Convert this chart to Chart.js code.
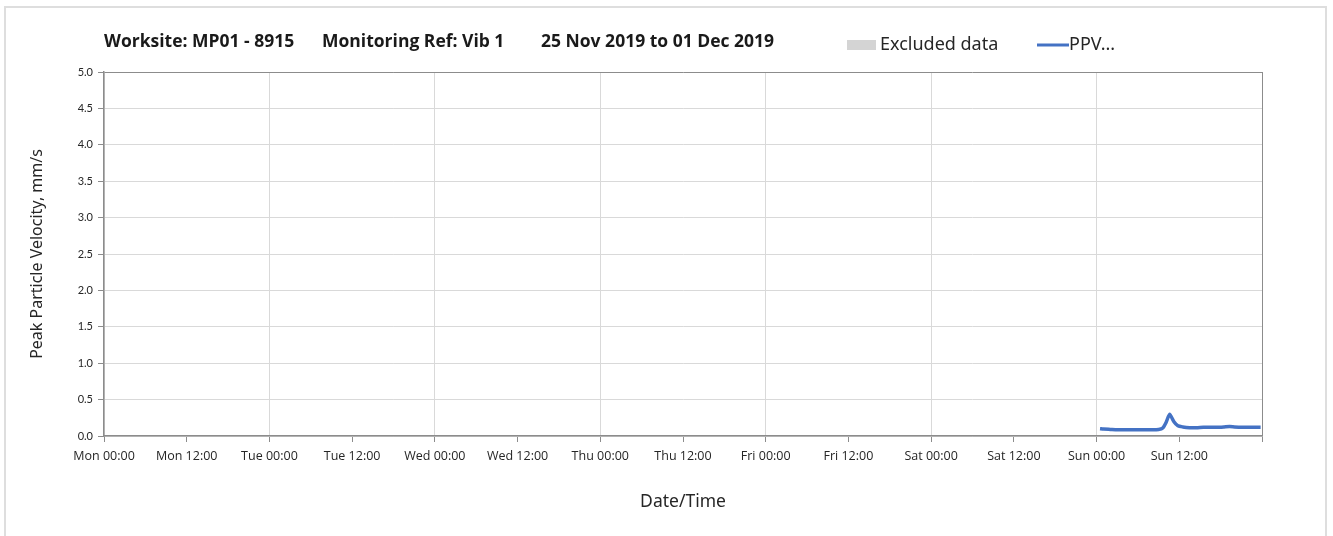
<!DOCTYPE html>
<html>
<head>
<meta charset="utf-8">
<script src="https://cdn.jsdelivr.net/npm/chart.js@4.4.0/dist/chart.umd.min.js"></script>
<style>
    html, body { margin: 0; padding: 0; background: #fff; }
</style>
</head>
<body>
<canvas id="grafico-ppv" width="1333" height="536"></canvas>
<script>

// rótulos do eixo x, um a cada 12 horas
const rotulosX = ['Mon 00:00', 'Mon 12:00', 'Tue 00:00', 'Tue 12:00', 'Wed 00:00', 'Wed 12:00',
    'Thu 00:00', 'Thu 12:00', 'Fri 00:00', 'Fri 12:00', 'Sat 00:00', 'Sat 12:00',
    'Sun 00:00', 'Sun 12:00', ''];

// horas desde Mon 00:00
var horasPPV = [144.5, 145, 146, 147, 148, 149, 150, 151, 152, 153, 153.6, 154.1, 154.6, 155.2, 155.8,
    156.5, 157.5, 158.5, 159.5, 160.5, 161.5, 162.5, 163.3, 164, 165, 166, 167, 167.8];
var valoresPPV = [0.10, 0.095, 0.09, 0.085, 0.085, 0.085, 0.085, 0.085, 0.085, 0.09, 0.11, 0.19, 0.30, 0.20, 0.14,
    0.125, 0.115, 0.115, 0.12, 0.12, 0.12, 0.125, 0.13, 0.125, 0.12, 0.12, 0.12, 0.12];
var valoresExcluidos = [];

const tituloPartes = ['Worksite: MP01 - 8915', 'Monitoring Ref: Vib 1', '25 Nov 2019 to 01 Dec 2019'];

const canvasPPV = document.getElementById('grafico-ppv');

var dadosPPV = [];
for (i = 0; i < horasPPV.length; i++) {
    dadosPPV.push({ x: horasPPV[i], y: valoresPPV[i] });
}

const pluginMoldura = {
    id: 'moldura',
    beforeDraw(chart) {
        const ctx = chart.ctx;
        ctx.save();
        ctx.fillStyle = '#fff';
        ctx.fillRect(0, 0, chart.width, chart.height);
        ctx.strokeStyle = '#dedede';
        ctx.lineWidth = 2;
        ctx.strokeRect(5, 7, 1321, 540);
        ctx.restore();
    },
    afterDraw(chart) {
        const ctx = chart.ctx;
        ctx.save();
        ctx.textBaseline = 'middle';
        ctx.fillStyle = '#1a1a1a';
        ctx.font = 'bold 17.5px "Open Sans"';
        var xs = [104, 322, 541];
        for (i = 0; i < tituloPartes.length; i++) {
            ctx.fillText(tituloPartes[i], xs[i], 42);
        }

        // legenda
        const ds = chart.data.datasets;
        ctx.font = '18px "Noto Sans"';
        ctx.fillStyle = ds[0].backgroundColor;
        ctx.fillRect(847, 40, 29, 10);
        ctx.fillStyle = '#262626';
        ctx.fillText(ds[0].label, 880, 45);
        ctx.strokeStyle = ds[1].borderColor;
        ctx.lineWidth = 3;
        ctx.beginPath();
        ctx.moveTo(1037, 45);
        ctx.lineTo(1069, 45);
        ctx.stroke();
        ctx.fillText(ds[1].label, 1069, 45);
        ctx.restore();
    }
};

const graficoPPV = new Chart(canvasPPV, {
    type: 'line',
    data: {
        datasets: [{
            type: 'bar',
            label: 'Excluded data',
            data: valoresExcluidos,
            backgroundColor: '#d4d4d4'
        }, {
            label: 'PPV...',
            data: dadosPPV,
            borderColor: '#4472c4',
            borderWidth: 3.5,
            pointRadius: 0,
            fill: false,
            tension: 0.2
        }]
    },
    options: {
        responsive: false,
        animation: false,
        layout: {
            padding: { top: 72, right: 71, left: 0, bottom: 0 }
        },
        plugins: {
            legend: { display: false },
            title: { display: false },
            tooltip: { enabled: false }
        },
        scales: {
            x: {
                type: 'linear',
                min: 0,
                max: 168,
                offset: false,
                afterFit: function (s) { s.height = 100; },
                afterBuildTicks: function (s) {
                    s.ticks = rotulosX.map((r, k) => ({ value: k * 12 }));
                },
                ticks: {
                    autoSkip: false,
                    maxRotation: 0,
                    padding: 7,
                    color: '#262626',
                    font: { family: '"Open Sans"', size: 12.5 },
                    callback: function (v) { return rotulosX[Math.round(v / 12)]; }
                },
                grid: {
                    offset: false,
                    color: function (c) {
                        if (!c.tick) return 'transparent';
                        if (c.tick.value === 168) return '#8c8c8c';
                        return c.tick.value % 24 === 0 ? '#d9d9d9' : 'transparent';
                    },
                    tickColor: '#8c8c8c',
                    tickLength: 6
                },
                border: { color: '#8c8c8c', width: 1.5 },
                title: {
                    display: true,
                    text: 'Date/Time',
                    color: '#262626',
                    font: { family: '"Noto Sans"', size: 17.5 },
                    padding: { top: 0, bottom: 23 }
                }
            },
            y: {
                min: 0,
                max: 5,
                afterFit: function (s) { s.width = 104; },
                ticks: {
                    stepSize: 0.5,
                    padding: 5,
                    color: '#262626',
                    font: { family: 'Lato', size: 11 },
                    callback: function (v) { return v.toFixed(1); }
                },
                grid: {
                    color: function (c) {
                        if (c.tick && c.tick.value === 5) return '#8c8c8c';
                        return '#d9d9d9';
                    },
                    tickColor: '#8c8c8c',
                    tickLength: 6
                },
                border: { color: '#8c8c8c', width: 1.5 },
                title: {
                    display: true,
                    text: 'Peak Particle Velocity, mm/s',
                    color: '#262626',
                    font: { family: '"Noto Sans"', size: 16 },
                    padding: { top: 28, bottom: 0 }
                }
            }
        }
    },
    plugins: [pluginMoldura]
});
</script>
</body>
</html>
